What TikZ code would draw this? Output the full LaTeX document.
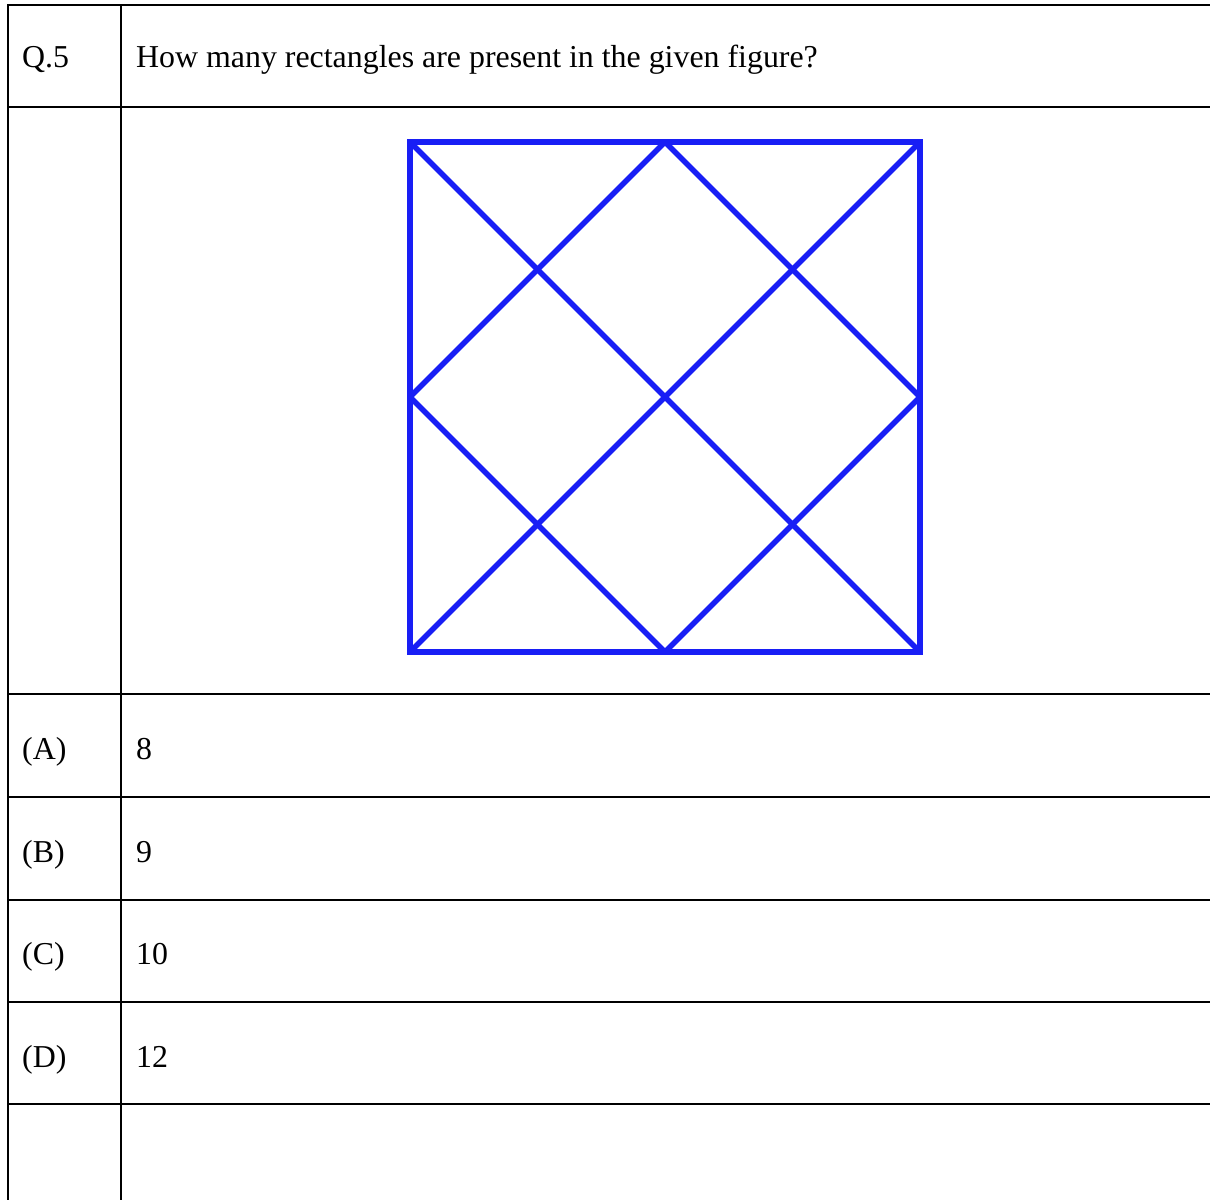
\documentclass[tikz,border=0pt]{standalone}
\usepackage{fontspec}
\setmainfont{Liberation Serif}
\definecolor{figblue}{RGB}{24,30,245}
\begin{document}
\begin{tikzpicture}[x=1bp,y=-1bp,
  rule/.style={line width=2.2bp,black},
  frame/.style={line width=6bp,figblue,line join=miter},
  fig/.style={line width=5.5bp,figblue,line cap=butt},
  txt/.style={anchor=base west,inner sep=0pt,font=\fontsize{32}{38}\selectfont}]
\useasboundingbox (0,0) rectangle (1210,1200);
% table rules
\draw[rule] (8,5) -- (8,1200);
\draw[rule] (121,5) -- (121,1200);
\foreach \y in {5,107,694,797,900,1002,1104}
  \draw[rule] (7,\y) -- (1210,\y);
% texts
\node[txt] (q) at (22,67.5) {Q.5};
\node[txt] (qt) at (136,67.5) {How many rectangles are present in the given figure?};
\node[txt] (a) at (22,759) {(A)};
\node[txt] (av) at (136,759) {8};
\node[txt] (b) at (22,862) {(B)};
\node[txt] (bv) at (136,862) {9};
\node[txt] (c) at (22,964) {(C)};
\node[txt] (cv) at (136,964) {10};
\node[txt] (d) at (22,1067) {(D)};
\node[txt] (dv) at (136,1067) {12};
% figure
\coordinate (tl) at (410,142);
\coordinate (tr) at (920,142);
\coordinate (bl) at (410,652);
\coordinate (br) at (920,652);
\coordinate (tm) at (665,142);
\coordinate (bm) at (665,652);
\coordinate (lm) at (410,397);
\coordinate (rm) at (920,397);
\begin{scope}
\clip (tl) rectangle (br);
\draw[fig] (tl) -- (br);
\draw[fig] (tr) -- (bl);
\draw[fig] (tm) -- (rm);
\draw[fig] (rm) -- (bm);
\draw[fig] (bm) -- (lm);
\draw[fig] (lm) -- (tm);
\end{scope}
\draw[frame] (tl) rectangle (br);
\end{tikzpicture}
\end{document}
